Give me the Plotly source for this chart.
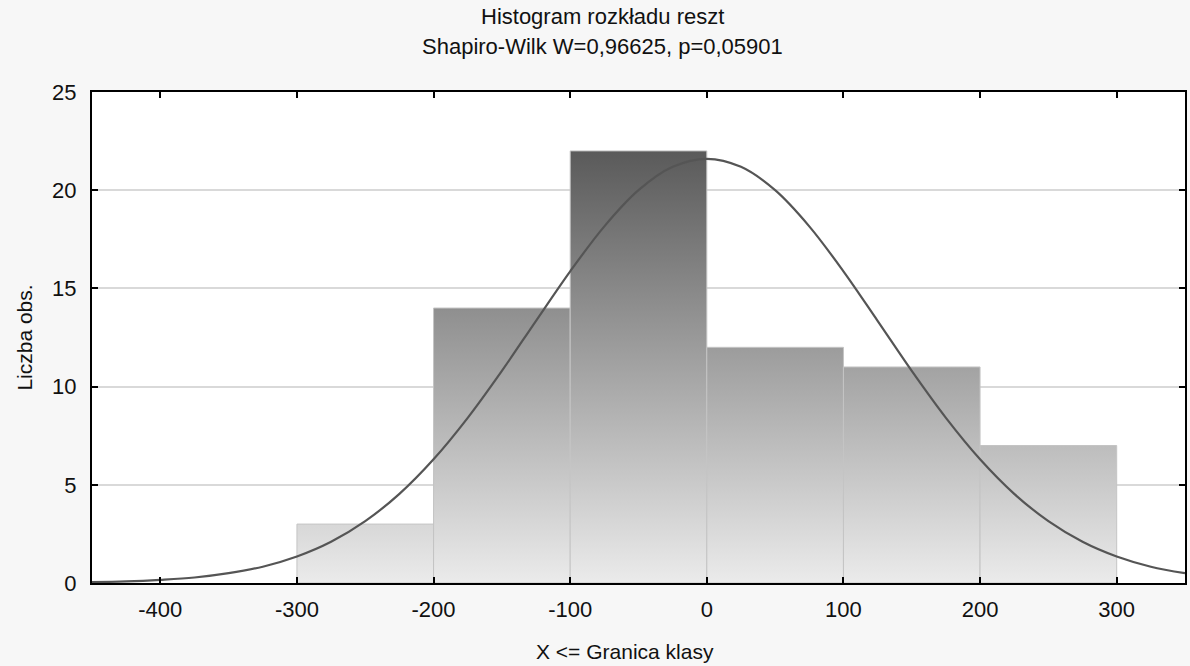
import plotly.graph_objects as go

# ---- data ----
bin_edges = [-300, -200, -100, 0, 100, 200, 300]
counts = [3, 14, 22, 12, 11, 7]

curve_x = [-450, -425, -400, -375, -350, -325, -300, -275, -250, -225, -200, -175, -150,
           -125, -100, -75, -50, -25, 0, 25, 50, 75, 100, 125, 150, 175, 200, 225, 250,
           275, 300, 325, 350]
curve_y = [0.04, 0.08, 0.16, 0.28, 0.50, 0.83, 1.35, 2.10, 3.15, 4.54, 6.30, 8.41, 10.80,
           13.35, 15.87, 18.16, 20.00, 21.19, 21.60, 21.19, 20.00, 18.16, 15.87, 13.35,
           10.80, 8.41, 6.30, 4.54, 3.15, 2.10, 1.35, 0.83, 0.50]

x_ticks = [-400, -300, -200, -100, 0, 100, 200, 300]
y_ticks = [0, 5, 10, 15, 20, 25]

title_1 = "Histogram rozkładu reszt"
title_2 = "Shapiro-Wilk W=0,96625, p=0,05901"
x_title = "X <= Granica klasy"
y_title = "Liczba obs."

FONT = "Liberation Sans, Arial, sans-serif"

fig = go.Figure()

for i, h in enumerate(counts):
    x0, x1 = bin_edges[i], bin_edges[i + 1]
    fig.add_trace(go.Scatter(
        x=[x0, x0, x1, x1, x0], y=[0, h, h, 0, 0],
        mode="lines", fill="toself",
        line=dict(color="#c4c4c4", width=1),
        fillgradient=dict(type="vertical",
                          colorscale=[[0, "#ebebeb"], [1, "#5a5a5a"]],
                          start=0, stop=max(counts)),
        hoverinfo="skip", showlegend=False,
    ))

fig.add_trace(go.Scatter(
    x=curve_x, y=curve_y, mode="lines",
    line=dict(color="#555555", width=2.2, shape="spline"),
    showlegend=False,
))

fig.update_layout(
    width=1190, height=666,
    margin=dict(l=92, r=3, t=92, b=83),
    paper_bgcolor="#f7f7f7", plot_bgcolor="#ffffff",
    font=dict(family=FONT, size=22, color="#111111"),
    showlegend=False,
    annotations=[
        dict(text=title_1, xref="paper", yref="paper", x=0.467, y=1.153,
             showarrow=False, font=dict(size=22), xanchor="center", yanchor="middle"),
        dict(text=title_2, xref="paper", yref="paper", x=0.467, y=1.092,
             showarrow=False, font=dict(size=22), xanchor="center", yanchor="middle"),
        dict(text=x_title, xref="paper", yref="paper", x=0.488, y=-0.14,
             showarrow=False, font=dict(size=21), xanchor="center", yanchor="middle"),
    ],
)

fig.update_xaxes(
    range=[-450, 350], tickvals=x_ticks, ticktext=[str(v) for v in x_ticks],
    showgrid=False, zeroline=False,
    showline=True, linecolor="#000000", linewidth=2, mirror="ticks",
    ticks="inside", ticklen=6, tickwidth=2, tickcolor="#000000",
    tickfont=dict(size=22), ticklabelstandoff=6,
)
fig.update_yaxes(
    range=[0, 25], tickvals=y_ticks,
    showgrid=True, gridcolor="#d9d9d9", gridwidth=1.5, zeroline=False,
    showline=True, linecolor="#000000", linewidth=2, mirror="ticks",
    ticks="inside", ticklen=6, tickwidth=2, tickcolor="#000000",
    tickfont=dict(size=22), ticklabelstandoff=9,
    title=dict(text=y_title, font=dict(size=21), standoff=14),
)

fig.write_html("out.html")
